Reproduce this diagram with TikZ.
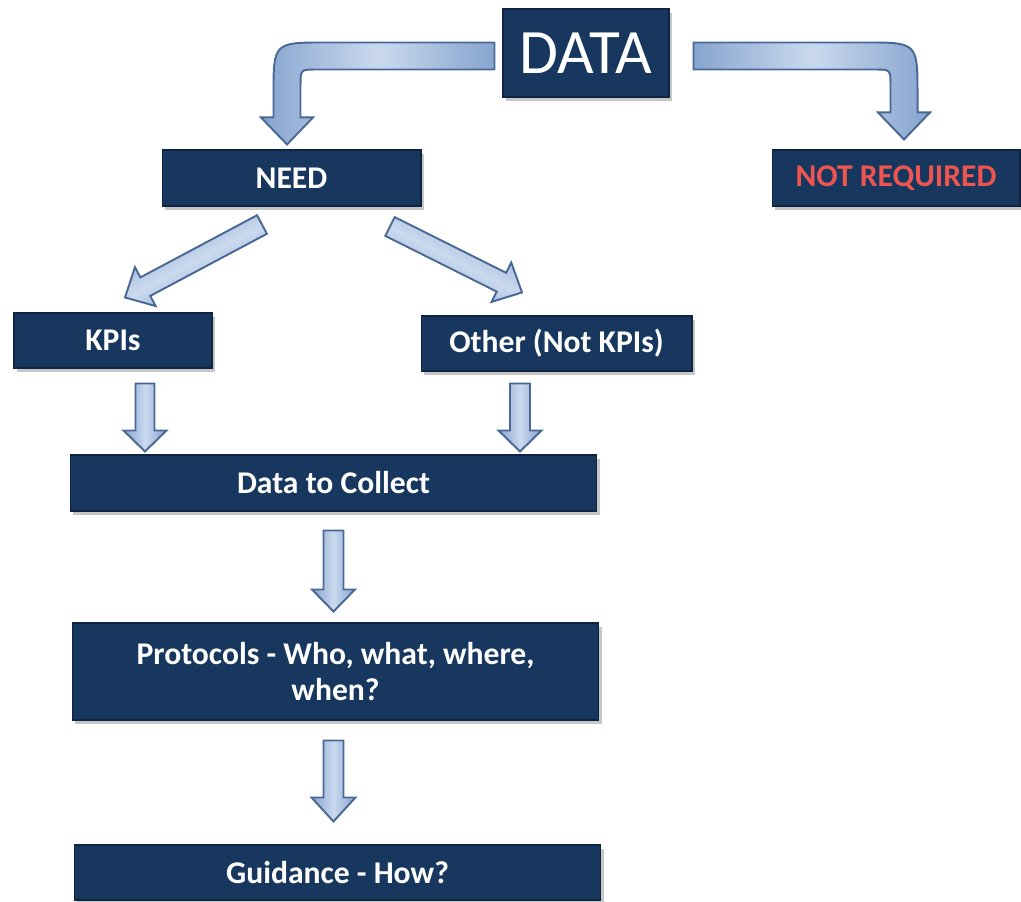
\documentclass[tikz,border=0pt]{standalone}
\usepackage{fontspec}
\setmainfont{Carlito}
\usetikzlibrary{calc,shadows}

\definecolor{boxfill}{HTML}{17375E}
\definecolor{boxline}{HTML}{0E2441}
\definecolor{arrowline}{HTML}{4A6896}
\definecolor{arrowdark}{HTML}{86A4CE}
\definecolor{arrowlight}{HTML}{CAD9EE}
\definecolor{notred}{HTML}{EE5550}

\tikzset{
  box/.style={draw=boxline, line width=0.6pt, fill=boxfill, text=white, inner sep=0pt, align=center,
    font=\fontsize{18}{21}\selectfont\bfseries,
    drop shadow={shadow xshift=1.5pt, shadow yshift=-2.5pt, opacity=0.45}},
  arrowstyle/.style={draw=arrowline, line width=1.1pt, line join=miter,
    left color=arrowdark, right color=arrowdark, middle color=arrowlight}
}

\def\arrsh{7.7pt}
\def\arrhh{14.8pt}
\def\arrhl{15.4pt}
\def\arrro{30pt}
\def\arrri{9pt}

\newcommand{\blockarrow}[6][]{%
  \coordinate (hb) at ($(#3)!#6!(#2)$);
  \draw[arrowstyle,#1] ($(#2)!#4!90:(#3)$) -- ($(hb)!#4!90:(#3)$) -- ($(hb)!#5!90:(#3)$) -- (#3)
    -- ($(hb)!#5!-90:(#3)$) -- ($(hb)!#4!-90:(#3)$) -- ($(#2)!#4!-90:(#3)$) -- cycle;
}

\newcommand{\bentarrow}[3]{%
  \draw[arrowstyle] let \p1=(#1), \p2=(#2) in
    (\x1,{\y1+\arrsh}) -- ({\x2+(#3)*\arrsh-(#3)*\arrro},{\y1+\arrsh})
    .. controls ({\x2+(#3)*\arrsh},{\y1+\arrsh}) .. ({\x2+(#3)*\arrsh},{\y1+\arrsh-\arrro})
    -- ({\x2+(#3)*\arrsh},{\y2+\arrhl}) -- ({\x2+(#3)*\arrhh},{\y2+\arrhl}) -- (\x2,\y2)
    -- ({\x2-(#3)*\arrhh},{\y2+\arrhl}) -- ({\x2-(#3)*\arrsh},{\y2+\arrhl})
    -- ({\x2-(#3)*\arrsh},{\y1-\arrsh-\arrri})
    .. controls ({\x2-(#3)*\arrsh},{\y1-\arrsh}) .. ({\x2-(#3)*\arrsh-(#3)*\arrri},{\y1-\arrsh})
    -- (\x1,{\y1-\arrsh}) -- cycle;
}

\begin{document}
\begin{tikzpicture}[x=0.02cm, y=-0.02cm]
\useasboundingbox (0,0) rectangle (1021,902);

\node[box, minimum width=3.32cm, minimum height=1.76cm, font=\fontsize{36}{40}\selectfont] (data) at (586,53) {DATA};
\node[box, minimum width=5.18cm, minimum height=1.12cm] (need) at (291.5,178) {NEED};
\node[box, minimum width=4.96cm, minimum height=1.12cm, text=notred] (notreq) at (896,178) {NOT REQUIRED};
\node[box, minimum width=3.96cm, minimum height=1.1cm] (kpis) at (113,340.5) {KPIs};
\node[box, minimum width=5.42cm, minimum height=1.1cm] (other) at (556.5,343.5) {Other (Not KPIs)};
\node[box, minimum width=10.54cm, minimum height=1.12cm] (collect) at (333.5,483) {Data to Collect};
\node[box, minimum width=10.54cm, minimum height=1.94cm] (protocols) at (335.5,671.5) {Protocols - Who, what, where,\\when?};
\node[box, minimum width=10.54cm, minimum height=1.1cm] (guidance) at (337.5,872.5) {Guidance - How?};

\coordinate (data-l) at ($(data.west)+(-8,3)$);
\coordinate (need-in) at ($(need.north)+(-4.5,-5)$);
\coordinate (data-r) at ($(data.east)+(24,3)$);
\coordinate (notreq-in) at ($(notreq.north)+(8,-10)$);
\coordinate (need-l) at ($(need.south)+(-29.5,18)$);
\coordinate (kpis-in) at ($(kpis.north)+(12,-15)$);
\coordinate (need-r) at ($(need.south)+(98.5,20)$);
\coordinate (other-in) at ($(other.north)+(-34.5,-23)$);
\coordinate (kpis-out) at ($(kpis.south)+(32,15)$);
\coordinate (collect-l) at ($(kpis-out |- collect.north)+(0,-3)$);
\coordinate (other-out) at ($(other.south)+(-36.5,12)$);
\coordinate (collect-r) at ($(other-out |- collect.north)+(0,-3)$);
\coordinate (collect-out) at ($(collect.south)+(0,19)$);
\coordinate (protocols-in) at ($(collect-out |- protocols.north)+(0,-11)$);
\coordinate (protocols-out) at ($(protocols.south)+(-2,20)$);
\coordinate (guidance-in) at ($(protocols-out |- guidance.north)+(0,-23)$);

\bentarrow{data-l}{need-in}{-1}
\bentarrow{data-r}{notreq-in}{1}
\blockarrow[shading angle=28]{need-l}{kpis-in}{0.21cm}{0.44cm}{0.46cm}
\blockarrow[shading angle=153]{need-r}{other-in}{0.21cm}{0.44cm}{0.46cm}
\blockarrow{kpis-out}{collect-l}{0.19cm}{0.43cm}{0.42cm}
\blockarrow{other-out}{collect-r}{0.2cm}{0.43cm}{0.42cm}
\blockarrow{collect-out}{protocols-in}{0.2cm}{0.43cm}{0.44cm}
\blockarrow{protocols-out}{guidance-in}{0.2cm}{0.44cm}{0.48cm}
\end{tikzpicture}
\end{document}
